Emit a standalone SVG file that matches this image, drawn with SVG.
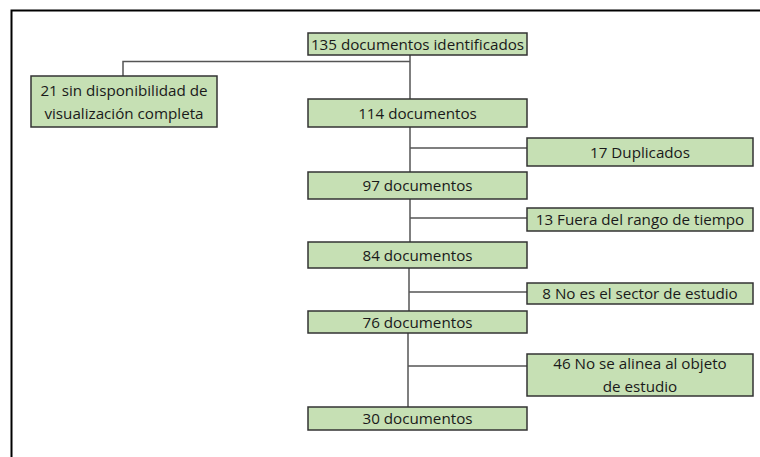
<svg xmlns="http://www.w3.org/2000/svg" width="760" height="457" viewBox="0 0 760 457">
<style>
.box{fill:#c6e0b4;stroke:#333;stroke-width:1.5}
.t{font-family:"Open Sans","Liberation Sans",sans-serif;font-size:15.2px;fill:#1a1a1a;text-anchor:middle}
.c{fill:none;stroke:#555;stroke-width:1.5}
</style>
<rect width="760" height="457" fill="#fff"/>
<path d="M11.5,457 V10.5 H760" fill="none" stroke="#000" stroke-width="2"/>
<g id="connectors">
<path class="c" d="M410,55 V99"/>
<path class="c" d="M410,61.5 H123 V76"/>
<path class="c" d="M410,127 V172"/>
<path class="c" d="M410,148 H527"/>
<path class="c" d="M410,199 V242"/>
<path class="c" d="M410,218 H527"/>
<path class="c" d="M409,268 V311"/>
<path class="c" d="M409,292 H527"/>
<path class="c" d="M408,333 V407"/>
<path class="c" d="M408,366 H527"/>
</g>
<g id="n135"><rect class="box" x="308" y="33" width="219" height="22"/><text class="t" x="417.5" y="49.5">135 documentos identificados</text></g>
<g id="n21"><rect class="box" x="31" y="76" width="186" height="51"/><text class="t" x="124" y="96">21 sin disponibilidad de</text><text class="t" x="124" y="119">visualización completa</text></g>
<g id="n114"><rect class="box" x="308" y="99" width="219" height="28"/><text class="t" x="417.5" y="118.5">114 documentos</text></g>
<g id="n17"><rect class="box" x="527" y="138" width="226" height="28"/><text class="t" x="640" y="157.5">17 Duplicados</text></g>
<g id="n97"><rect class="box" x="308" y="172" width="219" height="27"/><text class="t" x="417.5" y="191">97 documentos</text></g>
<g id="n13"><rect class="box" x="527" y="208" width="226" height="23"/><text class="t" x="640" y="225">13 Fuera del rango de tiempo</text></g>
<g id="n84"><rect class="box" x="308" y="242" width="219" height="26"/><text class="t" x="417.5" y="260.5">84 documentos</text></g>
<g id="n8"><rect class="box" x="527" y="283" width="226" height="21"/><text class="t" x="640" y="298.5">8 No es el sector de estudio</text></g>
<g id="n76"><rect class="box" x="308" y="311" width="219" height="22"/><text class="t" x="417.5" y="327.5">76 documentos</text></g>
<g id="n46"><rect class="box" x="527" y="354" width="226" height="42"/><text class="t" x="640" y="369">46 No se alinea al objeto</text><text class="t" x="640" y="392">de estudio</text></g>
<g id="n30"><rect class="box" x="308" y="407" width="219" height="23"/><text class="t" x="417.5" y="424">30 documentos</text></g>
</svg>
